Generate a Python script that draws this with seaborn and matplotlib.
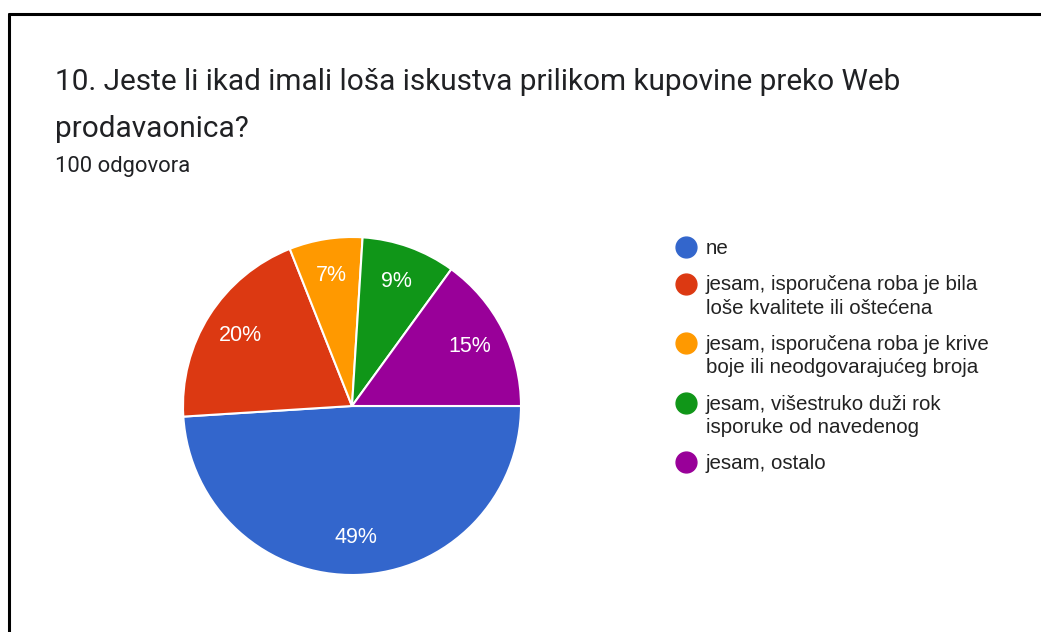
import matplotlib
matplotlib.use("Agg")
import matplotlib.pyplot as plt
from matplotlib.lines import Line2D
import seaborn as sns

# ---- data ----
categories = [
    "ne",
    "jesam, isporučena roba je bila\nloše kvalitete ili oštećena",
    "jesam, isporučena roba je krive\nboje ili neodgovarajućeg broja",
    "jesam, višestruko duži rok\nisporuke od navedenog",
    "jesam, ostalo",
]
values = [49, 20, 7, 9, 15]
colors = ["#3366cc", "#dc3912", "#ff9900", "#109618", "#990099"]
title_lines = ["10. Jeste li ikad imali loša iskustva prilikom kupovine preko Web",
               "prodavaonica?"]
subtitle = "100 odgovora"

sns.set_theme(style="white")
plt.rcParams["font.family"] = ["Liberation Sans", "DejaVu Sans"]

W, H = 1041, 632
fig = plt.figure(figsize=(W / 100, H / 100), dpi=100)
fig.patch.set_facecolor("white")

# frame lines (top and left)
fig.add_artist(Line2D([9 / W, 1.0], [1 - 14 / H, 1 - 14 / H], color="black", lw=2.2,
                      transform=fig.transFigure))
fig.add_artist(Line2D([9 / W, 9 / W], [0, 1 - 14 / H], color="black", lw=2.2,
                      transform=fig.transFigure))

# title & subtitle
fig.text(55 / W, 1 - 90 / H, title_lines[0], fontsize=21.4, family="Roboto",
         color="#202124", va="baseline", ha="left")
fig.text(55 / W, 1 - 137 / H, title_lines[1], fontsize=21.4, family="Roboto",
         color="#202124", va="baseline", ha="left")
fig.text(55 / W, 1 - 172 / H, subtitle, fontsize=15.8, family="Roboto",
         color="#202124", va="baseline", ha="left")

# pie
cx, cy, r = 352, 406, 169
ax = fig.add_axes([(cx - r) / W, (H - cy - r) / H, 2 * r / W, 2 * r / H])
wedges, texts, autotexts = ax.pie(
    values, colors=colors, startangle=0, counterclock=False,
    autopct=lambda p: f"{p:.0f}%", pctdistance=0.78,
    wedgeprops=dict(edgecolor="white", linewidth=1.5),
    textprops=dict(color="white", fontsize=15.5),
)
ax.set_xlim(-1, 1)
ax.set_ylim(-1, 1)
ax.set_aspect("equal")
ax.axis("off")

# legend
handles = [Line2D([0], [0], marker="o", linestyle="none", markersize=15,
                  markerfacecolor=c, markeredgecolor=c) for c in colors]
leg = fig.legend(handles, categories, loc="upper left",
                 bbox_to_anchor=(676 / W, 1 - 239 / H), frameon=False,
                 fontsize=14.8, handlelength=1.0, handletextpad=0.45,
                 labelspacing=0.85, labelcolor="#222222", borderaxespad=0,
                 borderpad=0, handleheight=1.0)
for t in leg.get_texts():
    t.set_linespacing(1.27)
# align markers with the first line of each (multi-line) entry
try:
    for col in leg._legend_handle_box.get_children():
        for item in col.get_children():
            item.align = "top"
except Exception:
    pass

fig.savefig("out.png", dpi=100, facecolor="white")
